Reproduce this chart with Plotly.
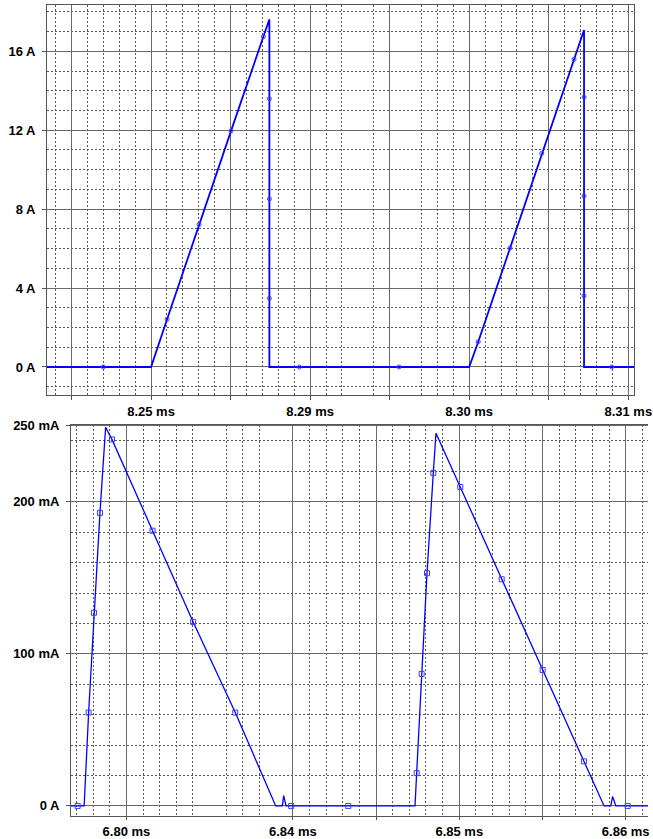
import plotly.graph_objects as go

# ---------------- top panel data (time in ms, current in A) ----------------
top_line_t = [8.27346, 8.27700, 8.28000, 8.28101, 8.28302, 8.28503, 8.28706, 8.28744,
              8.28744, 8.28744, 8.28744, 8.28744, 8.28932, 8.29559, 8.30000, 8.30057,
              8.30256, 8.30456, 8.30659, 8.30722, 8.30722, 8.30722, 8.30722, 8.30722,
              8.30896, 8.31036]
top_line_i = [0, 0, 0, 2.42, 7.23, 11.97, 16.74, 17.62,
              13.60, 8.52, 3.48, 0, 0, 0, 0, 1.28,
              6.03, 10.83, 15.60, 17.08, 13.68, 8.67, 3.61, 0,
              0, 0]
top_mark_t = [8.27700, 8.28101, 8.28302, 8.28503, 8.28706, 8.28744, 8.28744, 8.28744,
              8.28932, 8.29559, 8.30057, 8.30256, 8.30456, 8.30659, 8.30722, 8.30722,
              8.30722, 8.30896]
top_mark_i = [0, 2.42, 7.23, 11.97, 16.74, 13.60, 8.52, 3.48,
              0, 0, 1.28, 6.03, 10.83, 15.60, 13.68, 8.67,
              3.61, 0]

top_x_major = [8.275, 8.28, 8.285, 8.29, 8.295, 8.30, 8.305, 8.31]
top_x_labels = ["", "8.25 ms", "", "8.29 ms", "", "8.30 ms", "", "8.31 ms"]
top_x_minor = [8.274, 8.276, 8.277, 8.278, 8.279, 8.281, 8.282, 8.283, 8.284,
               8.286, 8.287, 8.288, 8.289, 8.291, 8.292, 8.294,
               8.297, 8.298, 8.299, 8.301, 8.302, 8.303, 8.304,
               8.306, 8.307, 8.308, 8.309, 8.310]
top_y_major = [0, 4, 8, 12, 16]
top_y_labels = ["0 A", "4 A", "8 A", "12 A", "16 A"]
top_y_minor = [-1, 1, 2, 3, 5, 6, 7, 9, 10, 11, 13, 14, 15, 17, 18]

# ---------------- bottom panel data (time in ms, current in mA) ----------------
bot_line_t = [6.82667, 6.82707, 6.82746, 6.82773, 6.82805, 6.82841, 6.82875, 6.82913,
              6.83157, 6.83401, 6.83654, 6.83897, 6.83937, 6.83945, 6.83959, 6.83990,
              6.84333, 6.84734, 6.84744, 6.84774, 6.84806, 6.84844, 6.84860, 6.85006,
              6.85255, 6.85501, 6.85749, 6.85870, 6.85911, 6.85921, 6.85941, 6.86012,
              6.86134]
bot_line_i = [0, 0, 0, 61.4, 127, 192.7, 249, 241,
              181, 121, 61.4, 0, 0, 6.8, 0, 0,
              0, 0, 21.6, 86.8, 153, 219, 245, 209.7,
              149, 89.4, 29.3, 0, 0, 6.2, 0, 0,
              0]
bot_mark_t = [6.82707, 6.82773, 6.82805, 6.82841, 6.82913, 6.83157, 6.83401, 6.83654,
              6.83990, 6.84333, 6.84744, 6.84774, 6.84806, 6.84844, 6.85006, 6.85255,
              6.85501, 6.85749, 6.86012]
bot_mark_i = [0, 61.4, 127, 192.7, 241, 181, 121, 61.4,
              0, 0, 21.6, 86.8, 153, 219, 209.7, 149,
              89.4, 29.3, 0]

bot_x_major = [6.83, 6.84, 6.845, 6.85, 6.855, 6.86]
bot_x_labels = ["6.80 ms", "6.84 ms", "", "6.85 ms", "", "6.86 ms"]
bot_x_minor = [6.827, 6.828, 6.829, 6.831, 6.832, 6.833, 6.834, 6.836, 6.837, 6.838,
               6.841, 6.842, 6.843, 6.844, 6.846, 6.847, 6.848, 6.849,
               6.851, 6.852, 6.853, 6.854, 6.856, 6.857, 6.858, 6.859, 6.861]
bot_y_major = [0, 100, 200, 250]
bot_y_labels = ["0 A", "100 mA", "200 mA", "250 mA"]
bot_y_minor = [20, 40, 60, 80, 120, 140, 160, 180, 220, 240]

W, H = 653, 839
BLUE = "#0000ff"
MARK = "#3a3aff"
GRID = "#6a6a6a"
DOT = "#555555"
FRAME = "#555555"
tickfont = dict(family="Liberation Sans, Arial, sans-serif", size=13, color="#000000", weight="bold")

fig = go.Figure()
fig.add_trace(go.Scatter(x=top_line_t, y=top_line_i, mode="lines",
                         line=dict(color=BLUE, width=1.8), xaxis="x", yaxis="y",
                         hoverinfo="skip", showlegend=False))
fig.add_trace(go.Scatter(x=top_mark_t, y=top_mark_i, mode="markers",
                         marker=dict(symbol="circle-open", size=4, color=MARK, line=dict(width=1)),
                         xaxis="x", yaxis="y", showlegend=False))
fig.add_trace(go.Scatter(x=bot_line_t, y=bot_line_i, mode="lines",
                         line=dict(color=BLUE, width=1.3), xaxis="x2", yaxis="y2",
                         hoverinfo="skip", showlegend=False))
fig.add_trace(go.Scatter(x=bot_mark_t, y=bot_mark_i, mode="markers",
                         marker=dict(symbol="square-open", size=5, color=MARK, line=dict(width=1)),
                         xaxis="x2", yaxis="y2", showlegend=False))


def axis(domain, rng, major, labels, minor, anchor, mirror, ticklen=4, standoff=4):
    return dict(domain=domain, range=rng, anchor=anchor, automargin=False,
                tickmode="array", tickvals=major, ticktext=labels,
                showgrid=True, gridcolor=GRID, gridwidth=1,
                showline=True, linecolor=FRAME, linewidth=1, mirror=mirror,
                ticks="outside", ticklen=ticklen, tickcolor=FRAME,
                ticklabelstandoff=standoff,
                tickfont=tickfont, zeroline=False,
                minor=dict(tickmode="array", tickvals=minor, showgrid=True,
                           gridcolor=DOT, gridwidth=1, griddash="2px,2px", ticks=""))


fig.update_layout(
    width=W, height=H,
    margin=dict(l=0, r=0, t=0, b=0),
    paper_bgcolor="white", plot_bgcolor="white",
    showlegend=False,
    xaxis=axis([47 / W, 634 / W], [8.27346, 8.31036], top_x_major, top_x_labels,
               top_x_minor, "y", True, ticklen=4, standoff=0),
    yaxis=axis([1 - 395 / H, 1 - 5 / H], [-1.42, 18.35], top_y_major, top_y_labels,
               top_y_minor, "x", True),
    xaxis2=axis([71 / W, 648 / W], [6.82667, 6.86134], bot_x_major, bot_x_labels,
                bot_x_minor, "y2", True, ticklen=3, standoff=0),
    yaxis2=axis([1 - 816 / H, 1 - 424.5 / H], [-6.62, 250.8], bot_y_major, bot_y_labels,
                bot_y_minor, "x2", False),
)

fig.write_html("out.html")
